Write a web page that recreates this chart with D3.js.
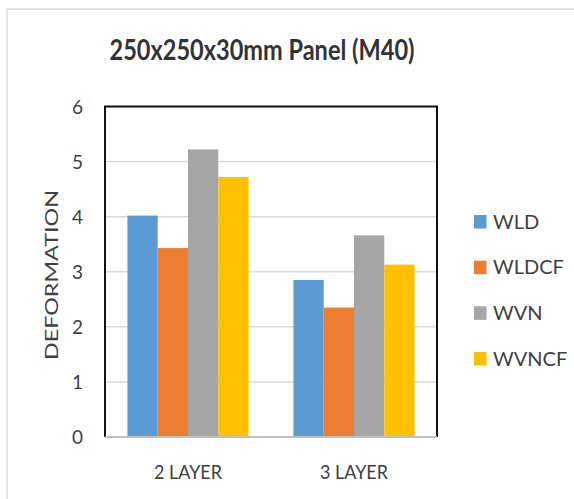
<!DOCTYPE html>
<html>
<head>
<meta charset="utf-8">
<script src="https://cdn.jsdelivr.net/npm/d3@7"></script>
<style>
  body { margin: 0; background: #fff; }
  svg { display: block; }
  text { font-family: Lato, "Open Sans", sans-serif; }
</style>
</head>
<body>
<svg id="chart" width="574" height="499"></svg>
<script>
const categories = ["2 LAYER", "3 LAYER"];
const seriesNames = ["WLD", "WLDCF", "WVN", "WVNCF"];
const WLD   = [4.02, 2.85];
const WLDCF = [3.43, 2.35];
const WVN   = [5.22, 3.66];
const WVNCF = [4.72, 3.13];
const seriesValues = [WLD, WLDCF, WVN, WVNCF];
const yTicks = [0, 1, 2, 3, 4, 5, 6];
const colors = ["#5b9bd5", "#ed7d31", "#a5a5a5", "#ffc000"];
const titleText = "250x250x30mm Panel (M40)";
const yTitle = "DEFORMATION";

const svg = d3.select("#chart");

// outer chart frame
svg.append("rect").attr("x", 7).attr("y", 9).attr("width", 580).attr("height", 500)
  .attr("fill", "#fff").attr("stroke", "#d9d9d9").attr("stroke-width", 1.5);

const plot = { left: 105, right: 437, top: 106.5, bottom: 437 };

const x0 = d3.scaleBand().domain(categories).range([plot.left, plot.right])
  .paddingInner(0.27).paddingOuter(0.135);
const x1 = d3.scaleBand().domain(seriesNames).range([0, x0.bandwidth()]);
const y = d3.scaleLinear().domain([0, 6]).range([plot.bottom, plot.top]);

// gridlines
svg.append("g").selectAll("line").data(yTicks.filter(t => t > 0 && t < 6)).join("line")
  .attr("x1", plot.left).attr("x2", plot.right)
  .attr("y1", d => y(d)).attr("y2", d => y(d))
  .attr("stroke", "#d9d9d9").attr("stroke-width", 1.5);

// bars
const rows = [];
categories.forEach((c, ci) => seriesNames.forEach((s, si) =>
  rows.push({ cat: c, series: s, value: seriesValues[si][ci], color: colors[si] })));
svg.append("g").selectAll("rect").data(rows).join("rect")
  .attr("x", d => x0(d.cat) + x1(d.series))
  .attr("width", x1.bandwidth())
  .attr("y", d => y(d.value))
  .attr("height", d => y(0) - y(d.value))
  .attr("fill", d => d.color);

// plot border (black left/top/right), gray bottom axis
svg.append("path")
  .attr("d", `M${plot.left},${plot.bottom} V${plot.top} H${plot.right} V${plot.bottom}`)
  .attr("fill", "none").attr("stroke", "#111").attr("stroke-width", 2);
svg.append("line").attr("x1", plot.left).attr("x2", plot.right)
  .attr("y1", plot.bottom).attr("y2", plot.bottom)
  .attr("stroke", "#bfbfbf").attr("stroke-width", 2);

// y axis labels
const yAxis = d3.axisLeft(y).tickValues(yTicks).tickFormat(d3.format("d")).tickSize(0).tickPadding(0);
const yg = svg.append("g").attr("transform", `translate(83,0)`).call(yAxis);
yg.select(".domain").remove();
yg.selectAll("text").attr("font-family", "Lato, sans-serif").attr("font-size", 19)
  .attr("fill", "#404040").attr("dy", "0.36em").attr("x", 0);

// x axis labels
const xAxis = d3.axisBottom(x0).tickSize(0).tickPadding(0);
const xg = svg.append("g").attr("transform", `translate(0,479)`).call(xAxis);
xg.select(".domain").remove();
xg.selectAll("text").attr("font-family", "Lato, sans-serif").attr("font-size", 20)
  .attr("fill", "#404040").attr("dy", 0).attr("y", 0)
  .attr("textLength", 68).attr("lengthAdjust", "spacingAndGlyphs");

// y title
svg.append("text")
  .attr("transform", "translate(58,275) rotate(-90)")
  .attr("text-anchor", "middle")
  .attr("font-family", "Liberation Sans, Arial, sans-serif")
  .attr("font-size", 18).attr("fill", "#404040")
  .attr("textLength", 170).attr("lengthAdjust", "spacingAndGlyphs")
  .text(yTitle);

// title
svg.append("text").attr("x", 262).attr("y", 60).attr("text-anchor", "middle")
  .attr("font-size", 28).attr("font-weight", "bold").attr("fill", "#333")
  .attr("textLength", 305).attr("lengthAdjust", "spacingAndGlyphs")
  .text(titleText);

// legend
const legendY = d3.scalePoint().domain(seriesNames).range([221.5, 358.5]);
const lg = svg.append("g").selectAll("g").data(seriesNames).join("g")
  .attr("transform", d => `translate(474,${legendY(d)})`);
lg.append("rect").attr("x", 0).attr("y", -6.5).attr("width", 12.5).attr("height", 13.5)
  .attr("fill", (d, i) => colors[i]);
lg.append("text").attr("x", 19).attr("y", 0).attr("dy", "0.36em")
  .attr("font-size", 20).attr("fill", "#404040").text(d => d);
</script>
</body>
</html>
